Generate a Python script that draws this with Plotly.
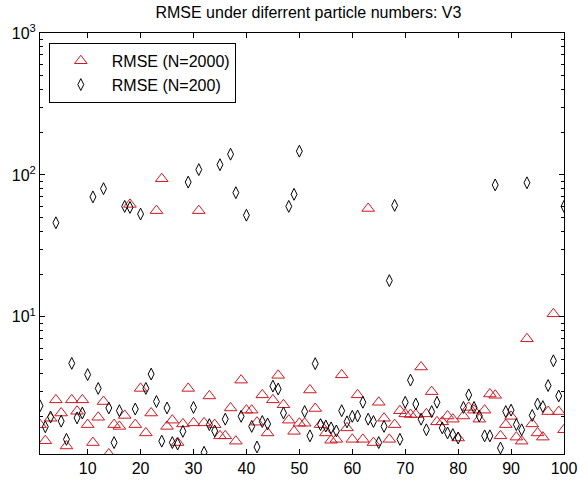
import numpy as np
import plotly.graph_objects as go

# Run index (x axis)
runs = list(range(1, 101))

# RMSE with N = 2000 particles
rmse_n2000 = [
    1.74, 1.34, 1.93, 2.6, 2.1, 1.23, 2.6, 2.16, 2.6, 1.74,
    1.30, 1.96, 2.53, 1.08, 1.74, 1.69, 2.02, 62, 1.74, 3.13,
    1.52, 2.1, 56, 94, 1.69, 1.87, 1.30, 1.76, 3.13, 1.79,
    56, 1.79, 2.77, 1.74, 1.45, 1.45, 2.28, 1.33, 3.58, 2.2,
    2.2, 1.81, 2.82, 1.52, 2.6, 3.87, 2.4, 1.87, 1.56, 1.78,
    1.78, 3.05, 2.26, 1.74, 1.52, 1.35, 1.37, 3.9, 1.65, 1.37,
    2.82, 1.37, 58, 1.30, 2.5, 1.93, 1.37, 1.74, 2.18, 2.07,
    2.05, 2.05, 4.43, 2.07, 2.97, 1.82, 1.82, 2.0, 1.9, 1.4,
    2.0, 2.3, 2.2, 1.9, 2.2, 2.86, 2.8, 1.45, 1.74, 1.99,
    1.42, 1.33, 7.0, 1.76, 1.52, 1.42, 2.15, 10.5, 2.15, 1.6,
]

# RMSE with N = 200 particles
rmse_n200 = [
    2.36, 1.68, 1.97, 46, 1.84, 1.37, 4.7, 1.94, 2.1, 3.92,
    70, 3.13, 80, 2.28, 1.30, 2.18, 60, 59, 2.24, 53,
    3.13, 3.95, 2.53, 1.33, 2.28, 1.30, 1.27, 1.56, 89, 2.3,
    109, 1.11, 1.74, 1.57, 118, 1.9, 140, 75, 1.99, 52,
    1.69, 1.21, 1.83, 1.76, 3.25, 3.1, 2.1, 60, 73, 147,
    2.15, 1.45, 4.68, 1.74, 1.7, 1.65, 1.57, 2.18, 1.82, 1.99,
    2.0, 2.5, 1.9, 1.83, 1.3, 1.69, 18, 61, 1.37, 2.5,
    3.58, 2.43, 1.9, 1.6, 2.15, 2.5, 1.65, 1.52, 1.48, 1.4,
    2.3, 2.82, 2.3, 2.0, 1.45, 1.45, 85, 1.19, 2.15, 2.2,
    1.74, 1.6, 88, 2.02, 2.43, 2.33, 3.28, 4.9, 2.77, 60,
]

x_ticks = [10, 20, 30, 40, 50, 60, 70, 80, 90, 100]
y_ticks = [10, 100, 1000]
y_ticktext = ["10<sup>1</sup>", "10<sup>2</sup>", "10<sup>3</sup>"]
y_minor = [m * d for d in (1, 10, 100) for m in range(2, 10)]

font_family = "Liberation Sans, Arial, sans-serif"

fig = go.Figure()
fig.add_trace(go.Scatter(
    x=runs, y=rmse_n2000, mode="markers", name="RMSE (N=2000)",
    marker=dict(symbol="triangle-up-open", size=11, color="rgb(205,25,35)",
                line=dict(width=1, color="rgb(205,25,35)")),
))
fig.add_trace(go.Scatter(
    x=runs, y=rmse_n200, mode="markers", name="RMSE (N=200)",
    marker=dict(symbol="diamond-tall-open", size=8.5, color="black",
                line=dict(width=1, color="black")),
))

axis_common = dict(
    showline=True, linecolor="black", linewidth=1, mirror="ticks",
    ticks="inside", ticklen=5, tickcolor="black", tickwidth=1,
    showgrid=False, zeroline=False,
    tickfont=dict(family=font_family, size=16, color="black"),
)

fig.update_layout(
    width=588, height=488,
    margin=dict(l=40, r=11, t=33, b=28),
    paper_bgcolor="white", plot_bgcolor="white",
    title=dict(text="RMSE under diferrent particle numbers: V3",
               x=0.5245, xanchor="center", y=0.975, yanchor="middle",
               font=dict(family=font_family, size=16, color="black")),
    xaxis=dict(range=[1, 100], tickvals=x_ticks, ticklabeloverflow="allow",
               **axis_common),
    yaxis=dict(type="log", range=[np.log10(1.08), 3], tickvals=y_ticks,
               ticktext=y_ticktext,
               minor=dict(tickvals=y_minor, ticks="inside", ticklen=3,
                          tickcolor="black"),
               **axis_common),
    legend=dict(x=0.0168, y=0.9766, xanchor="left", yanchor="top",
                bgcolor="white", bordercolor="black", borderwidth=1,
                itemwidth=52, tracegroupgap=0,
                font=dict(family=font_family, size=16, color="black")),
    showlegend=True,
)

fig.write_html("out.html")
